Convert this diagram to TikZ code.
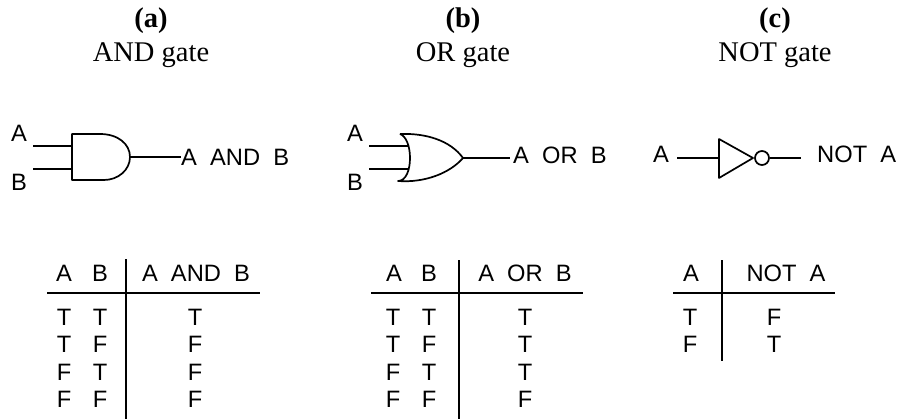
\documentclass[tikz,border=0pt]{standalone}
\usepackage{fontspec}
\setmainfont{Liberation Serif}
\setsansfont{Liberation Sans}
\begin{document}
\begin{tikzpicture}[
        x=1pt, y=-1pt,
        wireLine/.style={line width=1.7pt},
        gateShape/.style={line width=1.7pt, line join=round},
        headNode/.style={font=\fontsize{28.5}{30}\selectfont\bfseries, inner sep=0pt, anchor=base},
        nameNode/.style={font=\fontsize{28.5}{30}\selectfont, inner sep=0pt, anchor=base},
        labelNode/.style={font=\sffamily\fontsize{23.7}{26}\selectfont, inner sep=0pt}
    ]
        \useasboundingbox (0,0) rectangle (902,420);

        % Titles
        \node[headNode] (ta) at (151,28) {(a)};
        \node[nameNode] (na) at (151,62) {AND gate};
        \node[headNode] (tb) at (463,28) {(b)};
        \node[nameNode] (nb) at (463,62) {OR gate};
        \node[headNode] (tc) at (775,28) {(c)};
        \node[nameNode] (nc) at (775,62) {NOT gate};

        % AND gate
        \coordinate (a1) at (33,146);
        \coordinate (a2) at (33,169);
        \coordinate (a3) at (72,146);
        \coordinate (a4) at (72,169);
        \coordinate (aout) at (130,157);
        \node[labelNode] (la) at (19,133) {A};
        \node[labelNode] (lb) at (19,182) {B};
        \node[labelNode, anchor=west] (lo) at (181,157) {A\ \ AND\ \ B};
        \draw[gateShape] (72,134) -- (100,134) .. controls (118,134) and (130,144) .. (aout)
            .. controls (130,170) and (118,180) .. (104,180) -- (72,180) -- cycle;
        \draw[wireLine] (a1) -- (a3);
        \draw[wireLine] (a2) -- (a4);
        \draw[wireLine] (aout) -- (lo.west);

        % OR gate
        \coordinate (b1) at (369,146);
        \coordinate (b2) at (369,169);
        \coordinate (b3) at (409,146);
        \coordinate (b4) at (409,169);
        \coordinate (bout) at (463,158);
        \coordinate (bend) at (510,158);
        \node[labelNode] (lc) at (355,133) {A};
        \node[labelNode] (ld) at (355,182) {B};
        \node[labelNode, anchor=west] (lp) at (513,155) {A\ \ OR\ \ B};
        \draw[gateShape] (400,134) .. controls (425,133) and (450,140) .. (bout)
            .. controls (450,173) and (425,183) .. (398,181)
            .. controls (406,181) and (410,170) .. (410,158)
            .. controls (410,146) and (406,136) .. (400,134);
        \draw[wireLine] (b1) -- (b3);
        \draw[wireLine] (b2) -- (b4);
        \draw[wireLine] (bout) -- (bend);

        % NOT gate
        \node[labelNode] (le) at (661,154) {A};
        \node[labelNode, anchor=west] (lq) at (817,154) {NOT\ \ A};
        \coordinate (c1) at (677,158);
        \coordinate (c2) at (719,158);
        \coordinate (c3) at (801,158);
        \draw[gateShape] (719,139) -- (753,158) -- (719,178) -- cycle;
        \node[circle, draw, line width=1.7pt, minimum size=14pt, inner sep=0pt] (inv) at (762,158) {};
        \draw[wireLine] (c1) -- (c2);
        \draw[wireLine] (inv) -- (c3);

        % Table a
        \coordinate (ah1) at (47,293);
        \coordinate (ah2) at (260,293);
        \coordinate (av1) at (126,259);
        \coordinate (av2) at (126,419);
        \draw[wireLine] (ah1) -- (ah2);
        \draw[wireLine] (av1) -- (av2);
        \node[labelNode] (a00) at (64,273) {A};
        \node[labelNode] (a01) at (100,273) {B};
        \node[labelNode] (a02) at (196,273) {A\ \ AND\ \ B};
        \foreach \y/\p/\q/\r [count=\i] in {317/T/T/T, 344/T/F/F, 372/F/T/F, 399/F/F/F} {
            \node[labelNode] (a\i0) at (64,\y) {\p};
            \node[labelNode] (a\i1) at (100,\y) {\q};
            \node[labelNode] (a\i2) at (195,\y) {\r};
        }

        % Table b
        \coordinate (bh1) at (371,293);
        \coordinate (bh2) at (583,293);
        \coordinate (bv1) at (459,260);
        \coordinate (bv2) at (459,419);
        \draw[wireLine] (bh1) -- (bh2);
        \draw[wireLine] (bv1) -- (bv2);
        \node[labelNode] (b00) at (394,273) {A};
        \node[labelNode] (b01) at (429,273) {B};
        \node[labelNode] (b02) at (525,273) {A\ \ OR\ \ B};
        \foreach \y/\p/\q/\r [count=\i] in {317/T/T/T, 344/T/F/T, 372/F/T/T, 399/F/F/F} {
            \node[labelNode] (b\i0) at (393,\y) {\p};
            \node[labelNode] (b\i1) at (429,\y) {\q};
            \node[labelNode] (b\i2) at (525,\y) {\r};
        }

        % Table c
        \coordinate (ch1) at (673,293);
        \coordinate (ch2) at (835,293);
        \coordinate (cv1) at (722,260);
        \coordinate (cv2) at (722,361);
        \draw[wireLine] (ch1) -- (ch2);
        \draw[wireLine] (cv1) -- (cv2);
        \node[labelNode] (c00) at (691,273) {A};
        \node[labelNode] (c01) at (786,273) {NOT\ \ A};
        \foreach \y/\p/\q [count=\i] in {317/T/F, 344/F/T} {
            \node[labelNode] (c\i0) at (690,\y) {\p};
            \node[labelNode] (c\i1) at (774,\y) {\q};
        }
    \end{tikzpicture}
\end{document}
